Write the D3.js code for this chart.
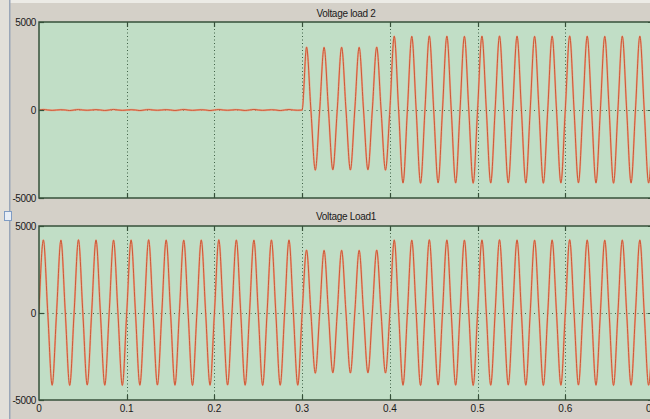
<!DOCTYPE html>
<html>
<head>
<meta charset="utf-8">
<script src="https://cdn.jsdelivr.net/npm/d3@7"></script>
<style>
  html, body { margin: 0; padding: 0; background: #d4d0c8; }
  svg { display: block; }
  text { font-family: "Liberation Sans", Arial, sans-serif; }
</style>
</head>
<body>
<svg id="chart" width="650" height="419"></svg>
<script>
// ---- data ----
const xTicks = [0, 0.1, 0.2, 0.3, 0.4, 0.5, 0.6, 0.7];
const xTickLabels = ["0", "0.1", "0.2", "0.3", "0.4", "0.5", "0.6", "0.7"];
const yTicks = [-5000, 0, 5000];
const yTickLabels = ["-5000", "0", "5000"];
const cycleLength = 0.02; // 50 Hz
const panelTitles = ["Voltage load 2", "Voltage Load1"];

// per-cycle positive peak and negative trough (35 cycles, 0 .. 0.7 s)
const load2Peaks = [30, 15, 25, 20, 30, 15, 25, 20, 30, 15, 25, 20, 30, 15, 25,
                    3580, 3560, 3570, 3560, 3580,
                    4200, 4190, 4210, 4200, 4190, 4200, 4210, 4200, 4190, 4200, 4210, 4200, 4190, 4200, 4200];
const load2Troughs = [-20, -30, -15, -25, -20, -30, -15, -25, -20, -30, -15, -25, -20, -30, -15,
                      -3420, -3400, -3410, -3400, -3420,
                      -4150, -4160, -4140, -4150, -4160, -4150, -4140, -4150, -4160, -4150, -4140, -4150, -4160, -4150, -4150];
const load1Peaks = [4200, 4190, 4210, 4200, 4190, 4200, 4210, 4200, 4190, 4200, 4210, 4200, 4190, 4200, 4200,
                    3620, 3600, 3610, 3600, 3620,
                    4200, 4190, 4210, 4200, 4190, 4200, 4210, 4200, 4190, 4200, 4210, 4200, 4190, 4200, 4200];
const load1Troughs = [-4150, -4160, -4140, -4150, -4160, -4150, -4140, -4150, -4160, -4150, -4140, -4150, -4160, -4150, -4150,
                      -3460, -3440, -3450, -3440, -3450,
                      -4150, -4160, -4140, -4150, -4160, -4150, -4140, -4150, -4160, -4150, -4140, -4150, -4160, -4150, -4150];

// ---- build point list: zero, peak, zero, trough per cycle ----
function buildPoints(peaks, troughs) {
  const pts = [];
  peaks.forEach((p, k) => {
    const t0 = k * cycleLength;
    pts.push([t0, 0]);
    pts.push([t0 + cycleLength / 4, p]);
    pts.push([t0 + cycleLength / 2, 0]);
    pts.push([t0 + 3 * cycleLength / 4, troughs[k]]);
  });
  pts.push([peaks.length * cycleLength, 0]);
  return pts;
}

const svg = d3.select("#chart");
const W = 650, H = 419;

// window chrome
svg.append("rect").attr("x", 0).attr("y", 0).attr("width", W).attr("height", H).attr("fill", "#d4d0c8");
svg.append("rect").attr("x", 0).attr("y", 0).attr("width", W).attr("height", 3).attr("fill", "#ecebe6");
svg.append("rect").attr("x", 0).attr("y", 0).attr("width", 9).attr("height", H).attr("fill", "#e2dfd9");
svg.append("rect").attr("x", 9).attr("y", 0).attr("width", 1.5).attr("height", H).attr("fill", "#9aa6b8");
svg.append("rect").attr("x", 4.5).attr("y", 211.5).attr("width", 7).attr("height", 9)
  .attr("fill", "#e8eef6").attr("stroke", "#7f9cc4").attr("stroke-width", 1);

const x = d3.scaleLinear().domain([0, 0.7]).range([39, 653]);

const panels = [
  { title: panelTitles[0], top: 22, bottom: 198, titleY: 17, data: buildPoints(load2Peaks, load2Troughs), showX: false },
  { title: panelTitles[1], top: 226, bottom: 400, titleY: 220, data: buildPoints(load1Peaks, load1Troughs), showX: true }
];

const gridColor = "#3f6046";
const frameColor = "#36503a";

panels.forEach((p, i) => {
  const y = d3.scaleLinear().domain([-5000, 5000]).range([p.bottom, p.top]);
  const g = svg.append("g");
  const clipId = "clip" + i;
  svg.append("clipPath").attr("id", clipId).append("rect")
    .attr("x", x(0)).attr("y", p.top).attr("width", x(0.7) - x(0)).attr("height", p.bottom - p.top);

  g.append("rect").attr("x", x(0)).attr("y", p.top)
    .attr("width", x(0.7) - x(0)).attr("height", p.bottom - p.top)
    .attr("fill", "#c1dec6");

  // grid
  g.selectAll(".vg").data(xTicks.slice(1, -1)).join("line")
    .attr("x1", d => Math.round(x(d)) + 0.5).attr("x2", d => Math.round(x(d)) + 0.5)
    .attr("y1", p.top).attr("y2", p.bottom)
    .attr("stroke", gridColor).attr("stroke-width", 1).attr("stroke-dasharray", "1,2.5");
  g.append("line").attr("x1", x(0)).attr("x2", x(0.7))
    .attr("y1", Math.round(y(0)) + 0.5).attr("y2", Math.round(y(0)) + 0.5)
    .attr("stroke", gridColor).attr("stroke-width", 1).attr("stroke-dasharray", "1,3.5");

  // signal
  const line = d3.line().x(d => x(d[0])).y(d => y(d[1])).curve(d3.curveMonotoneX);
  const sg = g.append("g").attr("clip-path", `url(#${clipId})`);
  sg.append("path").datum(p.data).attr("d", line)
    .attr("fill", "none").attr("stroke", "#e9a98c").attr("stroke-width", 2);
  sg.append("path").datum(p.data).attr("d", line)
    .attr("fill", "none").attr("stroke", "#cc5836").attr("stroke-width", 1);

  // frame
  g.append("rect").attr("x", x(0)).attr("y", p.top)
    .attr("width", x(0.7) - x(0)).attr("height", p.bottom - p.top)
    .attr("fill", "none").attr("stroke", frameColor).attr("stroke-width", 1.5);

  // x ticks top & bottom
  g.selectAll(".tt").data(xTicks.slice(1, -1)).join("line")
    .attr("x1", d => Math.round(x(d)) + 0.5).attr("x2", d => Math.round(x(d)) + 0.5)
    .attr("y1", p.top).attr("y2", p.top + 5)
    .attr("stroke", frameColor).attr("stroke-width", 1.2);
  g.selectAll(".tb").data(xTicks.slice(1, -1)).join("line")
    .attr("x1", d => Math.round(x(d)) + 0.5).attr("x2", d => Math.round(x(d)) + 0.5)
    .attr("y1", p.bottom - 5).attr("y2", p.bottom)
    .attr("stroke", frameColor).attr("stroke-width", 1.2);
  // y ticks
  g.selectAll(".yt").data(yTicks).join("line")
    .attr("x1", x(0)).attr("x2", x(0) + 5)
    .attr("y1", d => Math.round(y(d)) + 0.5).attr("y2", d => Math.round(y(d)) + 0.5)
    .attr("stroke", frameColor).attr("stroke-width", 1.2);
  g.selectAll(".ytr").data(yTicks).join("line")
    .attr("x1", x(0.7) - 5).attr("x2", x(0.7))
    .attr("y1", d => Math.round(y(d)) + 0.5).attr("y2", d => Math.round(y(d)) + 0.5)
    .attr("stroke", frameColor).attr("stroke-width", 1.2);

  // y tick labels
  g.selectAll(".yl").data(yTicks).join("text")
    .attr("x", 36).attr("y", d => y(d) + 3.5)
    .attr("text-anchor", "end").attr("font-size", 10).attr("fill", "#1a1a1a")
    .attr("letter-spacing", "-0.4")
    .text((d, j) => yTickLabels[j]);

  // title
  g.append("text").attr("x", (x(0) + x(0.7)) / 2).attr("y", p.titleY)
    .attr("text-anchor", "middle").attr("font-size", 10).attr("fill", "#1a1a1a")
    .attr("letter-spacing", "-0.3")
    .text(p.title);

  if (p.showX) {
    g.selectAll(".xl").data(xTicks).join("text")
      .attr("x", d => x(d)).attr("y", 412)
      .attr("text-anchor", "middle").attr("font-size", 10).attr("fill", "#1a1a1a")
      .text((d, j) => xTickLabels[j]);
  }
});
</script>
</body>
</html>
